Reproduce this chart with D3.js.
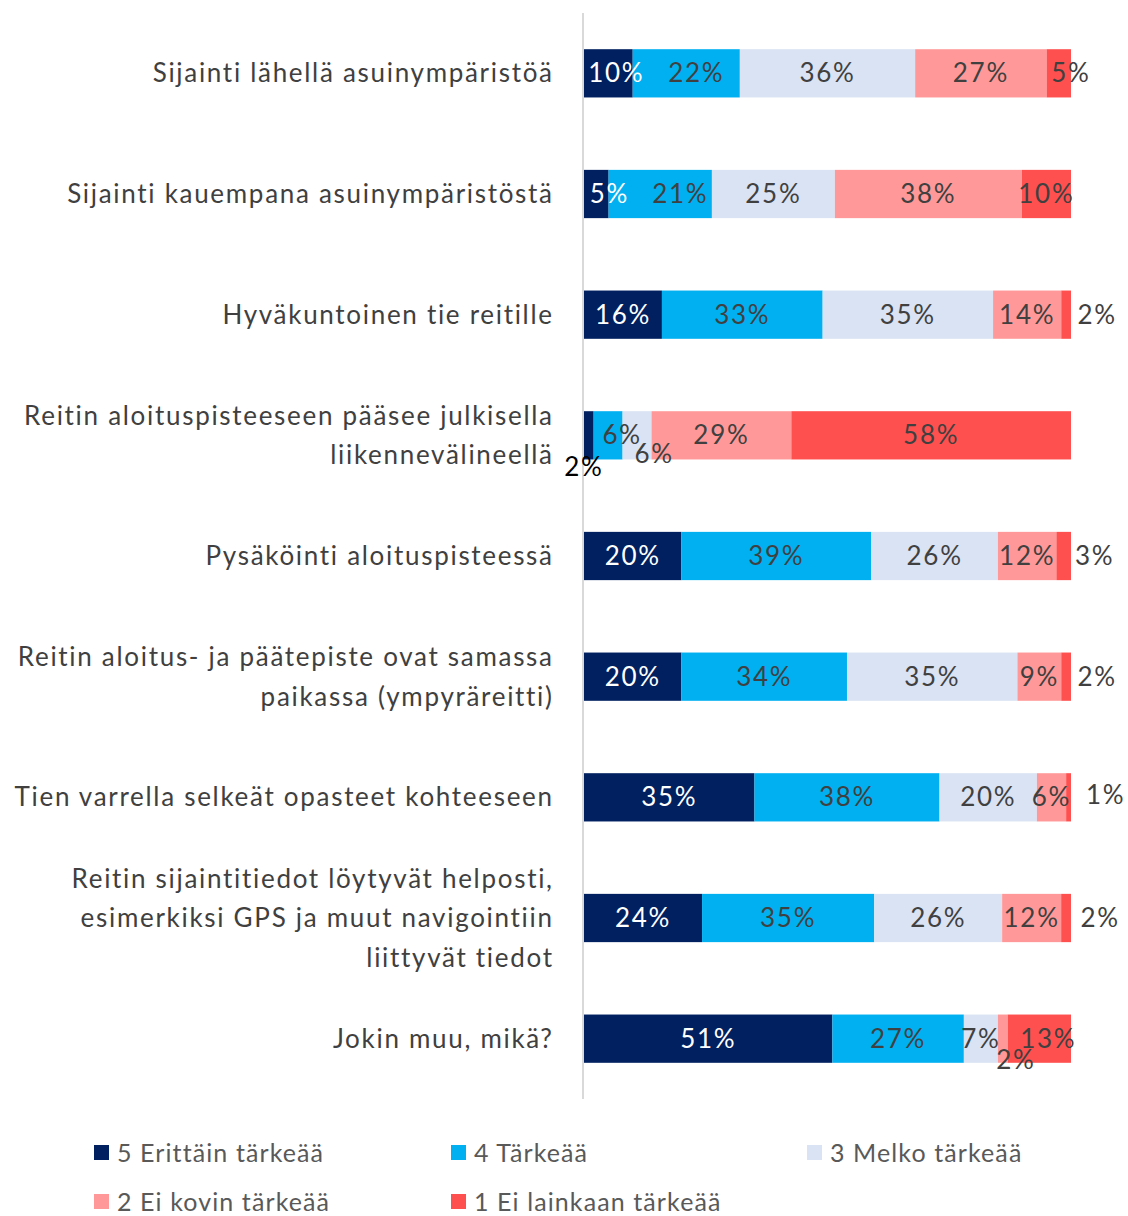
<!DOCTYPE html>
<html>
<head>
<meta charset="utf-8">
<script src="https://cdn.jsdelivr.net/npm/d3@7"></script>
<style>
  body { margin: 0; background: #fff; }
  svg text { font-family: Lato, "Open Sans", sans-serif; }
</style>
</head>
<body>
<div id="chart"></div>
<script>
// categories (line breaks as in the original)
const categories = [
  "Sijainti lähellä asuinympäristöä",
  "Sijainti kauempana asuinympäristöstä",
  "Hyväkuntoinen tie reitille",
  "Reitin aloituspisteeseen pääsee julkisella\nliikennevälineellä",
  "Pysäköinti aloituspisteessä",
  "Reitin aloitus- ja päätepiste ovat samassa\npaikassa (ympyräreitti)",
  "Tien varrella selkeät opasteet kohteeseen",
  "Reitin sijaintitiedot löytyvät helposti,\nesimerkiksi GPS ja muut navigointiin\nliittyvät tiedot",
  "Jokin muu, mikä?"
];

const seriesNames = [
  "5 Erittäin tärkeää",
  "4 Tärkeää",
  "3 Melko tärkeää",
  "2 Ei kovin tärkeää",
  "1 Ei lainkaan tärkeää"
];

// percentages per series, one value per category
const erittainTarkeaa = [10, 5, 16, 2, 20, 20, 35, 24, 51];
const tarkeaa = [22, 21, 33, 6, 39, 34, 38, 35, 27];
const melkoTarkeaa = [36, 25, 35, 6, 26, 35, 20, 26, 7];
const eiKovinTarkeaa = [27, 38, 14, 29, 12, 9, 6, 12, 2];
const eiLainkaanTarkeaa = [5, 10, 2, 58, 3, 2, 1, 2, 13];

const colors = ["#002060", "#00B0F0", "#DAE3F3", "#FF9999", "#FF5050"];
const labelColors = ["#FFFFFF", "#404040", "#404040", "#404040", "#404040"];

// label nudges where Excel moved labels (row-series -> [dx, dy, color])
const labelNudge = {
  "0-0": [8, 0], "0-1": [10, 0], "0-4": [12, 0],
  "1-0": [13, 0], "1-1": [20, 0],
  "2-4": [31, 0],
  "3-0": [-5, 32, "#000000"], "3-1": [14, 0], "3-2": [17, 19],
  "4-4": [31, 0],
  "5-4": [31, 0],
  "6-4": [37, -2],
  "7-4": [34, 0],
  "8-3": [13, 21], "8-4": [9, 0]
};

const width = 1128, height = 1216;
const x0 = 584, x1 = 1071;
const plotTop = 13, plotBottom = 1099;
const spacing = 1.7;

const rows = categories.map((c, i) => ({
  category: c,
  values: [erittainTarkeaa[i], tarkeaa[i], melkoTarkeaa[i], eiKovinTarkeaa[i], eiLainkaanTarkeaa[i]]
}));

const svg = d3.select("#chart")
  .append("svg")
  .attr("width", width)
  .attr("height", height);

const y = d3.scaleBand()
  .domain(categories)
  .range([plotTop, plotBottom])
  .paddingInner(0.6)
  .paddingOuter(0.3);

const x = d3.scaleLinear().domain([0, 1]).range([x0, x1]);

// stacked segments, normalised to 100%
const segments = [];
rows.forEach((r, i) => {
  const total = d3.sum(r.values);
  let acc = 0;
  r.values.forEach((v, s) => {
    segments.push({ row: i, series: s, value: v, start: acc / total, end: (acc + v) / total, category: r.category });
    acc += v;
  });
});

svg.append("g")
  .selectAll("rect")
  .data(segments)
  .enter()
  .append("rect")
  .attr("x", d => x(d.start))
  .attr("y", d => y(d.category))
  .attr("width", d => x(d.end) - x(d.start))
  .attr("height", y.bandwidth())
  .attr("fill", d => colors[d.series]);

// vertical axis line
svg.append("line")
  .attr("x1", x0 - 1).attr("x2", x0 - 1)
  .attr("y1", plotTop).attr("y2", plotBottom)
  .attr("stroke", "#D9D9D9")
  .attr("stroke-width", 2);

// category labels
const catLabels = svg.append("g")
  .selectAll("text")
  .data(categories)
  .enter()
  .append("text")
  .attr("text-anchor", "end")
  .attr("fill", "#404040")
  .style("font-size", "26px")
  .style("letter-spacing", spacing + "px")
  .attr("transform", d => `translate(${552 + spacing},${y(d) + y.bandwidth() / 2})`);

const lineH = 39.5;
catLabels.each(function (d) {
  const lines = d.split("\n");
  const off = -(lines.length - 1) * lineH / 2;
  d3.select(this).selectAll("tspan")
    .data(lines)
    .enter()
    .append("tspan")
    .attr("x", 0)
    .attr("y", (l, i) => off + i * lineH)
    .attr("dy", "0.35em")
    .text(l => l);
});

// data labels
svg.append("g")
  .selectAll("text")
  .data(segments)
  .enter()
  .append("text")
  .attr("text-anchor", "middle")
  .attr("dy", "0.35em")
  .style("font-size", "26px")
  .style("letter-spacing", spacing + "px")
  .attr("x", d => (x(d.start) + x(d.end)) / 2 + ((labelNudge[d.row + "-" + d.series] || [0, 0])[0]))
  .attr("y", d => y(d.category) + y.bandwidth() / 2 + ((labelNudge[d.row + "-" + d.series] || [0, 0])[1]))
  .attr("fill", d => (labelNudge[d.row + "-" + d.series] || [])[2] || labelColors[d.series])
  .text(d => d.value + "%");

// legend
const legendX = [94, 451, 807];
const legendY = [1153, 1202];
const legend = svg.append("g")
  .selectAll("g")
  .data(seriesNames)
  .enter()
  .append("g")
  .attr("transform", (d, i) => `translate(${legendX[i % 3]},${legendY[Math.floor(i / 3)]})`);

legend.append("rect")
  .attr("x", 0).attr("y", -8)
  .attr("width", 15).attr("height", 15)
  .attr("fill", (d, i) => colors[i]);

legend.append("text")
  .attr("x", 23)
  .attr("dy", "0.35em")
  .attr("fill", "#595959")
  .style("font-size", "25px")
  .style("letter-spacing", "1.1px")
  .text(d => d);
</script>
</body>
</html>
